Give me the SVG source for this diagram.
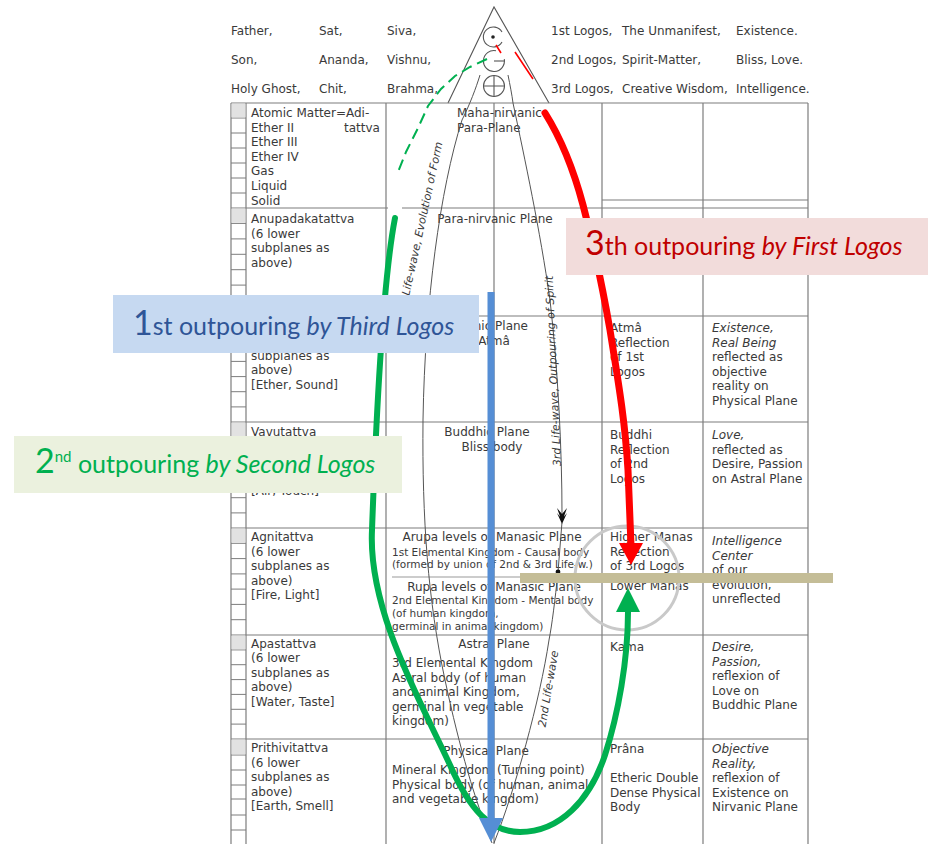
<svg xmlns="http://www.w3.org/2000/svg" width="933" height="844" viewBox="0 0 933 844">
<defs>
<style>
.tx{font-family:"DejaVu Sans",Verdana,sans-serif;font-size:12px;fill:#3a3a3a}
.sm{font-size:10.5px}
.it{font-style:italic}
.mid{text-anchor:middle}
.end{text-anchor:end}
.wave{font-family:"DejaVu Sans",Verdana,sans-serif;font-size:11px;font-style:italic;fill:#3a3a3a}
.grid{stroke:#7d7d7d;stroke-width:1.2;fill:none}
.sym{stroke:#555;stroke-width:1.1;fill:none}
.curve{stroke:#555;stroke-width:1;fill:none}
.lbl{font-family:Lato,"Open Sans",sans-serif;font-size:25px}
.big{font-size:34px}
</style>
</defs>
<rect width="933" height="844" fill="#ffffff"/>

<!-- correspondences above the table -->
<g id="header" class="tx">
  <text x="231" y="35">Father,</text>
  <text x="319" y="35">Sat,</text>
  <text x="387" y="35">Siva,</text>
  <text x="231" y="64">Son,</text>
  <text x="319" y="64">Ananda,</text>
  <text x="387" y="64">Vishnu,</text>
  <text x="231" y="93">Holy Ghost,</text>
  <text x="319" y="93">Chit,</text>
  <text x="387" y="93">Brahma,</text>
  <text x="551" y="35">1st Logos,</text>
  <text x="622" y="35">The Unmanifest,</text>
  <text x="736" y="35">Existence.</text>
  <text x="551" y="64">2nd Logos,</text>
  <text x="622" y="64">Spirit-Matter,</text>
  <text x="736" y="64">Bliss, Love.</text>
  <text x="551" y="93">3rd Logos,</text>
  <text x="622" y="93">Creative Wisdom,</text>
  <text x="736" y="93">Intelligence.</text>
</g>

<!-- triangle with the three Logos symbols -->
<g id="trinity" class="sym">
  <path d="M448,103 L494,7 L549,103"/>
  <path d="M502,32 A10,10 0 1,0 502,42"/>
  <circle cx="493" cy="37" r="1.8" fill="#222" stroke="none"/>
  <path d="M504.3,59.2 A10.5,10.5 0 1,1 496,50.7"/>
  <path d="M494,61 L504.5,61"/>
  <circle cx="494" cy="86" r="10.5"/>
  <path d="M483.5,86 L504.5,86 M494,75.5 L494,96.5"/>
</g>

<!-- table grid -->
<g id="grid" class="grid">
  <path d="M231,103 H808 M231,208 H808 M231,316 H808 M231,422 H808 M231,528 H808 M231,635 H808 M231,739 H808 M602,200 H808"/>
  <path d="M231,103 V844 M246,103 V844 M386,103 V844 M602,103 V844 M703,103 V844 M808,103 V844 M494,103 V844"/>
  <path stroke-width="1" d="M231,118 H246 M231,133 H246 M231,148 H246 M231,163 H246 M231,178 H246 M231,193 H246
    M231,223.4 H246 M231,238.9 H246 M231,254.3 H246 M231,269.7 H246 M231,285.1 H246 M231,300.6 H246
    M231,331.1 H246 M231,346.3 H246 M231,361.4 H246 M231,376.6 H246 M231,391.7 H246 M231,406.9 H246
    M231,437.1 H246 M231,452.3 H246 M231,467.4 H246 M231,482.6 H246 M231,497.7 H246 M231,512.9 H246
    M231,543.3 H246 M231,558.6 H246 M231,573.9 H246 M231,589.1 H246 M231,604.4 H246 M231,619.7 H246
    M231,649.9 H246 M231,664.7 H246 M231,679.6 H246 M231,694.4 H246 M231,709.3 H246 M231,724.1 H246
    M231,755 H246 M231,770 H246 M231,785 H246 M231,799 H246 M231,815 H246 M231,830 H246"/>
  <path stroke="#999" stroke-width="1" d="M392,577 H600"/>
</g>
<g id="cell-marks" fill="#e2e2e2">
  <rect x="231.6" y="103.6" width="13.8" height="13.8"/>
  <rect x="231.6" y="208.6" width="13.8" height="14.2"/>
  <rect x="231.6" y="316.6" width="13.8" height="13.9"/>
  <rect x="231.6" y="422.6" width="13.8" height="13.9"/>
  <rect x="231.6" y="528.6" width="13.8" height="14.1"/>
  <rect x="231.6" y="635.6" width="13.8" height="13.7"/>
  <rect x="231.6" y="739.6" width="13.8" height="14.8"/>
</g>

<!-- column 1: tattvas -->
<g id="tattvas" class="tx">
  <text x="251" y="117">Atomic Matter=Adi-</text>
  <text x="251" y="131.6">Ether II</text>
  <text x="344" y="131.6">tattva</text>
  <text x="251" y="146.2">Ether III</text>
  <text x="251" y="160.8">Ether IV</text>
  <text x="251" y="175.4">Gas</text>
  <text x="251" y="190">Liquid</text>
  <text x="251" y="204.6">Solid</text>

  <text x="251" y="223">Anupadakatattva</text>
  <text x="251" y="237.6">(6 lower</text>
  <text x="251" y="252.2">subplanes as</text>
  <text x="251" y="266.8">above)</text>

  <text x="251" y="359.5">subplanes as</text>
  <text x="251" y="374">above)</text>
  <text x="251" y="388.5">[Ether, Sound]</text>

  <text x="251" y="435.5">Vavutattva</text>
  <text x="251" y="495">[Air, Touch]</text>

  <text x="251" y="541">Agnitattva</text>
  <text x="251" y="555.6">(6 lower</text>
  <text x="251" y="570.2">subplanes as</text>
  <text x="251" y="584.8">above)</text>
  <text x="251" y="599.4">[Fire, Light]</text>

  <text x="251" y="647.5">Apastattva</text>
  <text x="251" y="662">(6 lower</text>
  <text x="251" y="676.6">subplanes as</text>
  <text x="251" y="691.2">above)</text>
  <text x="251" y="705.8">[Water, Taste]</text>

  <text x="251" y="752">Prithivitattva</text>
  <text x="251" y="766.6">(6 lower</text>
  <text x="251" y="781.2">subplanes as</text>
  <text x="251" y="795.8">above)</text>
  <text x="251" y="810.4">[Earth, Smell]</text>
</g>

<!-- column 2: planes and kingdoms -->
<g id="planes" class="tx">
  <text x="457" y="117">Maha-nirvanic</text>
  <text x="457" y="131.5">Para-Plane</text>
  <text x="495" y="223" class="mid">Para-nirvanic Plane</text>
  <text x="528" y="330" class="end">Nirvanic Plane</text>
  <text x="494" y="344.5" class="mid">Atmâ</text>
  <text x="487" y="435.5" class="mid">Buddhic Plane</text>
  <text x="492" y="451" class="mid">Bliss body</text>
  <text x="492" y="541" class="mid">Arupa levels of Manasic Plane</text>
  <text x="392" y="555.5" class="sm">1st Elemental Kingdom - Causal body</text>
  <text x="392" y="567.5" class="sm">(formed by union of 2nd &amp; 3rd Life-w.)</text>
  <text x="494" y="591" class="mid">Rupa levels of Manasic Plane</text>
  <text x="392" y="604" class="sm">2nd Elemental Kingdom - Mental body</text>
  <text x="392" y="617" class="sm">(of human kingdom,</text>
  <text x="392" y="630" class="sm">germinal in animal kingdom)</text>
  <text x="494" y="647.5" class="mid">Astral Plane</text>
  <text x="392" y="667">3rd Elemental Kingdom</text>
  <text x="392" y="681.6">Astral body (of human</text>
  <text x="392" y="696.2">and animal Kingdom,</text>
  <text x="392" y="710.8">germinal in vegetable</text>
  <text x="392" y="725.4">kingdom)</text>
  <text x="486" y="755" class="mid">Physical Plane</text>
  <text x="392" y="774">Mineral Kingdom (Turning point)</text>
  <text x="392" y="788.6">Physical body (of human, animal</text>
  <text x="392" y="803.2">and vegetable kingdom)</text>
</g>

<!-- column 3: principles -->
<g id="principles" class="tx">
  <text x="610" y="332">Atmâ</text>
  <text x="610" y="346.6">Reflection</text>
  <text x="610" y="361.2">of 1st</text>
  <text x="610" y="375.8">Logos</text>
  <text x="610" y="439">Buddhi</text>
  <text x="610" y="453.6">Reflection</text>
  <text x="610" y="468.2">of 2nd</text>
  <text x="610" y="482.8">Logos</text>
  <text x="610" y="541">Higher Manas</text>
  <text x="610" y="555.6">Reflection</text>
  <text x="610" y="570.2">of 3rd Logos</text>
  <text x="610" y="590">Lower Manas</text>
  <text x="610" y="651">Kama</text>
  <text x="610" y="753">Prâna</text>
  <text x="610" y="782.2">Etheric Double</text>
  <text x="610" y="796.8">Dense Physical</text>
  <text x="610" y="811.4">Body</text>
</g>

<!-- column 4: reflections -->
<g id="reflections" class="tx">
  <text x="712" y="332" class="it">Existence,</text>
  <text x="712" y="346.6" class="it">Real Being</text>
  <text x="712" y="361.2">reflected as</text>
  <text x="712" y="375.8">objective</text>
  <text x="712" y="390.4">reality on</text>
  <text x="712" y="405">Physical Plane</text>
  <text x="712" y="439" class="it">Love,</text>
  <text x="712" y="453.6">reflected as</text>
  <text x="712" y="468.2">Desire, Passion</text>
  <text x="712" y="482.8">on Astral Plane</text>
  <text x="712" y="545" class="it">Intelligence</text>
  <text x="712" y="559.6" class="it">Center</text>
  <text x="712" y="574.2">of our</text>
  <text x="712" y="588.8">evolution,</text>
  <text x="712" y="603.4">unreflected</text>
  <text x="712" y="651" class="it">Desire,</text>
  <text x="712" y="665.6" class="it">Passion,</text>
  <text x="712" y="680.2">reflexion of</text>
  <text x="712" y="694.8">Love on</text>
  <text x="712" y="709.4">Buddhic Plane</text>
  <text x="712" y="753" class="it">Objective</text>
  <text x="712" y="767.6" class="it">Reality,</text>
  <text x="712" y="782.2">reflexion of</text>
  <text x="712" y="796.8">Existence on</text>
  <text x="712" y="811.4">Nirvanic Plane</text>
</g>

<!-- life-wave curves -->
<g id="life-waves">
  <path class="curve" d="M480,75 C476,88 470,104 462,120 C440,190 425,300 423,420 C422,520 428,600 445,680 C460,750 475,800 492,843"/>
  <path class="curve" d="M508,75 C510,85 512,95 513,103 C525,160 540,230 550,300 C558,370 562,450 562,515"/>
  <path fill="#111" d="M557,508 L562,514 L567,508 L562,522 Z M557,513 L562,519 L567,513 L562,524 Z"/>
  <path class="curve" d="M562,522 L558,572 C555,600 552,625 549,640 C540,700 515,790 494,843"/>
  <circle cx="558" cy="572" r="2.4" fill="#111"/>
  <text class="wave" transform="translate(404,320) rotate(-77.7)">2nd Life-wave, Evolution of Form</text>
  <text class="wave" transform="translate(561,466) rotate(-92.5)">3rd Life-wave, Outpouring of Spirit</text>
  <text class="wave" font-size="10.7" transform="translate(545.5,727.6) rotate(-80.4)">2nd Life-wave</text>
</g>

<!-- Manas focus -->
<g id="manas-focus">
  <circle cx="627" cy="578" r="52" fill="none" stroke="#c9c9c9" stroke-width="3"/>
  <rect x="520" y="573" width="313" height="10" fill="#c4bd97"/>
</g>

<!-- outpourings -->
<g id="connectors">
  <rect x="388" y="205" width="14" height="6" fill="#ffffff"/>
  <path d="M487,59 L470,67 L455,76 L441,89 L428,106 L418,128 L406,152 L398,172" fill="none" stroke="#00b050" stroke-width="2" stroke-dasharray="11 6"/>
  <path d="M395,218 C383,280 376,420 372,530 C368,610 420,700 450,765 C470,810 490,832 520,832 C560,832 590,800 605,755 C618,715 628,660 628,612" fill="none" stroke="#00b050" stroke-width="6" stroke-linecap="round"/>
  <polygon points="616,612 640,612 628,588" fill="#00b050"/>

  <path d="M496,45 L501,53 M515,52 L533,79" fill="none" stroke="#ff0000" stroke-width="1.6"/>
  <path d="M545,113 C562,140 575,175 583,205 C595,250 603,290 610,330 C618,380 625,420 628,470 L631,545" fill="none" stroke="#ff0000" stroke-width="7" stroke-linecap="round"/>
  <polygon points="619,543 643,543 631,565" fill="#ff0000"/>

  <path d="M491,292 V820" stroke="#558ed5" stroke-width="7" fill="none"/>
  <polygon points="479,818 503,818 491,842" fill="#558ed5"/>
</g>

<!-- outpouring captions -->
<g id="first-outpouring">
  <rect x="113" y="295" width="366" height="58" fill="#c6d9f1"/>
  <text x="133" y="335" class="lbl" fill="#2f5597"><tspan class="big">1</tspan>st outpouring <tspan font-style="italic">by Third Logos</tspan></text>
</g>
<g id="second-outpouring">
  <rect x="14" y="436" width="388" height="57" fill="#ebf1de"/>
  <text x="35" y="473" class="lbl" fill="#00b050"><tspan class="big">2</tspan><tspan font-size="15" dy="-11">nd</tspan><tspan dy="11"> outpouring </tspan><tspan font-style="italic">by Second Logos</tspan></text>
</g>
<g id="third-outpouring">
  <rect x="566" y="218" width="362" height="57" fill="#f2dcdb"/>
  <text x="585" y="255" class="lbl" fill="#c00000"><tspan class="big">3</tspan>th outpouring <tspan font-style="italic">by First Logos</tspan></text>
</g>
</svg>
